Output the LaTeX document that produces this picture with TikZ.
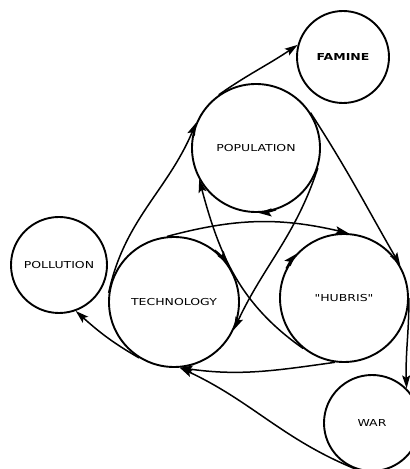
\documentclass[tikz,border=0pt]{standalone}
\usepackage{fontspec}
\newfontfamily\labelfont[FakeStretch=1.3]{DejaVu Sans}
\usetikzlibrary{arrows.meta}
\tikzstyle{issue} = [circle, draw, line width=1.9pt, inner sep=0pt,
                     font=\labelfont\fontsize{9.6}{11}\selectfont]
\tikzstyle{flow}  = [draw, line width=1.5pt, -{Stealth[length=13pt,width=8pt,inset=2.5pt]}]

\begin{document}
\begin{tikzpicture}[x=1pt, y=1pt]
		\useasboundingbox (0,0) rectangle (410,469);
		\node[issue, minimum size=92pt]  (famine)    at (343,412) {\bfseries FAMINE};
		\node[issue, minimum size=128pt] (pop)       at (256,321) {POPULATION};
		\node[issue, minimum size=96pt]  (pollution) at (59,204)  {POLLUTION};
		\node[issue, minimum size=130pt] (tech)      at (174,167) {TECHNOLOGY};
		\node[issue, minimum size=128pt] (hubris)    at (344,171) {"HUBRIS"};
		\node[issue, minimum size=96pt]  (war)       at (372,46)  {WAR};

		% technology -> population -> famine
		\draw[flow] (tech.172) to[out=78,in=247] (pop.157);
		\draw[flow] (pop.125) to[out=35,in=214] (famine.165);
		% population -> hubris -> war
		\draw[flow] (pop.33) to[out=-57,in=120] (hubris.30);
		\draw[flow] (hubris.0) to[out=-90,in=92] (war.45);
		% hubris -> technology -> pollution
		\draw[flow] (hubris.262) to[out=188,in=352] (tech.275);
		\draw[flow] (tech.238) to[out=150,in=318] (pollution.290);
		\draw[flow] (war.252) to[out=158,in=335] (tech.275);
		% crossing links
		\draw[flow] (tech.96) to[out=15,in=167] (hubris.86);
		\draw[flow] (pop.342) to[out=252,in=65] (tech.335);
		\draw[flow] (hubris.231) to[out=145,in=285] (pop.209);

		% direction round the circles
		\draw[flow] (pop.288) arc[start angle=288,end angle=272,radius=64pt];
		\draw[flow] (tech.52) arc[start angle=52,end angle=35,radius=65pt];
		\draw[flow] (hubris.153) arc[start angle=153,end angle=137,radius=64pt];
	\end{tikzpicture}
\end{document}
